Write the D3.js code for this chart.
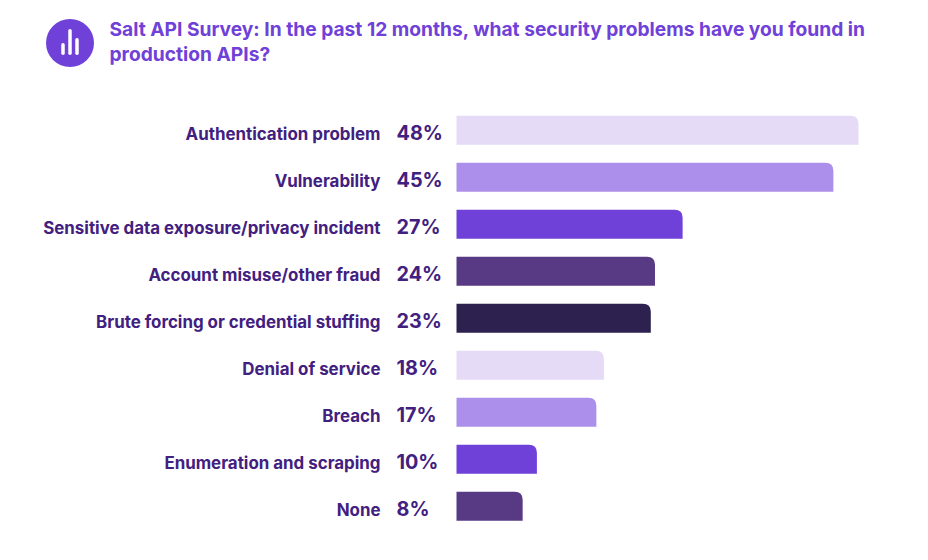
<!DOCTYPE html>
<html><head><meta charset="utf-8">
<script src="https://cdn.jsdelivr.net/npm/d3@7"></script>
<style>html,body{margin:0;padding:0;background:#fff}svg{display:block}text{font-family:Inter,sans-serif}</style>
</head><body><div id="c"></div>
<script>
const titleLines = ["Salt API Survey: In the past 12 months, what security problems have you found in", "production APIs?"];
const categories = ["Authentication problem","Vulnerability","Sensitive data exposure/privacy incident","Account misuse/other fraud","Brute forcing or credential stuffing","Denial of service","Breach","Enumeration and scraping","None"];
const values = [48,45,27,23.7,23.2,17.6,16.7,9.6,7.9];
const palette = ["#e5dbf7","#ab8fea","#6f41d8","#583a84","#2d2150"];
const iconHeights = [12,26,17];
const W=928,H=560;
const svg=d3.select("#c").append("svg").attr("width",W).attr("height",H);
const x=d3.scaleLinear().domain([0,48]).range([456.5,858.5]);
const y=d3.scaleBand().domain(categories).range([115.75,520.75]).paddingInner(18/47).paddingOuter(0);
const bh=y.bandwidth();
const color=d3.scaleOrdinal().domain(d3.range(9)).range(palette);
const r=8;
const rows=svg.append("g").selectAll("g").data(categories).join("g");
rows.append("path")
 .attr("d",(d,i)=>{const x0=x(0),x1=x(values[i]),y0=y(d),y1=y0+bh;
   const p=d3.path();p.moveTo(x0,y0);p.lineTo(x1-r,y0);p.quadraticCurveTo(x1,y0,x1,y0+r);p.lineTo(x1,y1);p.lineTo(x0,y1);p.closePath();return p.toString();})
 .attr("fill",(d,i)=>color(i));
rows.append("text").attr("x",380.5).attr("y",d=>y(d)+24).attr("text-anchor","end")
 .attr("font-size",16.9).attr("font-weight",700).attr("fill","#42207f").text(d=>d);
rows.append("text").attr("x",396.5).attr("y",d=>y(d)+24.5).attr("font-size",19.8).attr("font-weight",700).attr("fill","#42207f")
 .text((d,i)=>d3.format(".0f")(values[i])+"%");
const icon=svg.append("g").attr("transform","translate(70,43)");
icon.append("circle").attr("r",24).attr("fill","#6f41d8");
const ix=d3.scalePoint().domain([0,1,2]).range([-7,7]);
icon.selectAll("rect").data(iconHeights).join("rect")
 .attr("x",(d,i)=>ix(i)-1.75).attr("width",3.5).attr("rx",1.75)
 .attr("y",d=>12-d).attr("height",d=>d)
 .attr("fill","#fff");
svg.append("g").selectAll("text").data(titleLines).join("text")
 .attr("x",109.5).attr("y",(d,i)=>36+i*25).attr("font-size",19.2).attr("font-weight",700).attr("fill","#6f41d8").text(d=>d);
</script></body></html>
